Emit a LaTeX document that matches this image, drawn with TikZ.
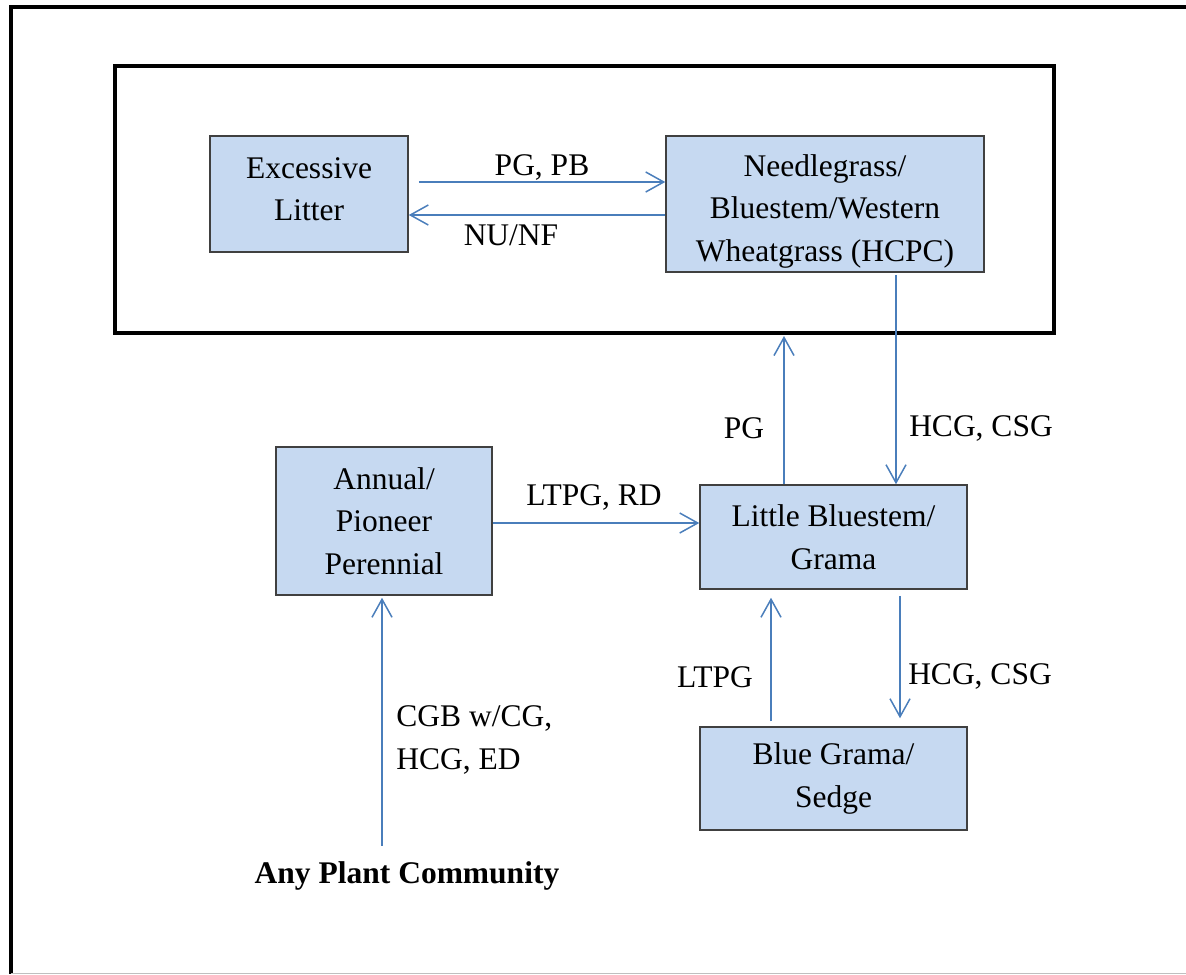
\documentclass[tikz,border=0pt]{standalone}
\usepackage{fontspec}
\setmainfont{Liberation Serif}
\usepackage{xcolor}
\usepackage{tikz}
\usetikzlibrary{arrows.meta}

\definecolor{boxfill}{RGB}{198,217,241}
\definecolor{boxline}{RGB}{64,64,64}
\definecolor{shiftblue}{RGB}{74,126,187}

\tikzset{
  plantbox/.style={draw=boxline, line width=0.75pt, fill=boxfill, align=center,
    inner sep=0pt, font=\fontsize{15.75}{21.25}\selectfont},
  shiftarrow/.style={draw=shiftblue, line width=0.75pt,
    -{Straight Barb[length=9pt,width=10pt,line width=0.75pt]}},
  shiftlabel/.style={inner sep=0pt, font=\fontsize{15.75}{21.25}\selectfont},
  frameline/.style={line width=2pt, line join=miter}
}

\begin{document}
\begin{tikzpicture}[x=0.5pt,y=-0.5pt]
\useasboundingbox (0,0) rectangle (1186,974);

% Outer frame (cut off at right and bottom)
\draw[frameline] (1186,7) -- (11,7) -- (11,974);
\draw[black!25, line width=0.5pt] (11,973) -- (1186,973);

% Reference state frame
\draw[frameline] (114.5,66) rectangle (1054,333);

% Plant communities
\node[plantbox, minimum width=99pt, minimum height=58pt] (litter) at (309,194) {Excessive\\Litter\rule[-5pt]{0pt}{5pt}};
\node[plantbox, minimum width=159pt, minimum height=68pt] (hcpc) at (825,204) {\rule{0pt}{18pt}Needlegrass/\\Bluestem/Western\\Wheatgrass (HCPC)};
\node[plantbox, minimum width=108pt, minimum height=74pt] (annual) at (384,521) {Annual/\\Pioneer\\Perennial};
\node[plantbox, minimum width=133.5pt, minimum height=52pt] (little) at (833.5,537) {Little Bluestem/\\Grama};
\node[plantbox, minimum width=133.5pt, minimum height=51.5pt] (blue) at (833.5,778.5) {Blue Grama/\\Sedge};
\node[shiftlabel, font=\fontsize{15.75}{21.25}\selectfont\bfseries, anchor=base] (any) at (407,883) {Any Plant Community};

\coordinate (pgtip) at (784,336);

% Transitions
\draw[shiftarrow] ([xshift=5pt]litter.east |- 0,182) -- (hcpc.west |- 0,182);
\draw[shiftarrow] (hcpc.west |- 0,215) -- (litter.east |- 0,215);
\draw[shiftarrow] (little.north -| pgtip) -- (pgtip);
\draw[shiftarrow, shorten <=1pt] (hcpc.south -| 896,0) -- (little.north -| 896,0);
\draw[shiftarrow] (annual.east |- 0,523) -- (little.west |- 0,523);
\draw[shiftarrow, shorten <=2.5pt, shorten >=4pt] (blue.north -| 771,0) -- (little.south -| 771,0);
\draw[shiftarrow, shorten <=3pt, shorten >=4pt] (little.south -| 900,0) -- (blue.north -| 900,0);
\draw[shiftarrow, shorten <=7.5pt, shorten >=1pt] (any.north -| 382,0) -- (annual.south -| 382,0);

% Labels
\node[shiftlabel] (pgpblbl) at (542,167) {PG, PB};
\node[shiftlabel] (nunflbl) at (511,235) {NU/NF};
\node[shiftlabel] (pglbl) at (744,428) {PG};
\node[shiftlabel] (hcgtoplbl) at (981,428) {HCG, CSG};
\node[shiftlabel] (ltpgrdlbl) at (594,497) {LTPG, RD};
\node[shiftlabel] (ltpglbl) at (715,677) {LTPG};
\node[shiftlabel] (hcgbotlbl) at (980,676) {HCG, CSG};
\node[shiftlabel, align=left, anchor=west] (cgblbl) at (396,740) {CGB w/CG,\\HCG, ED};
\end{tikzpicture}
\end{document}
